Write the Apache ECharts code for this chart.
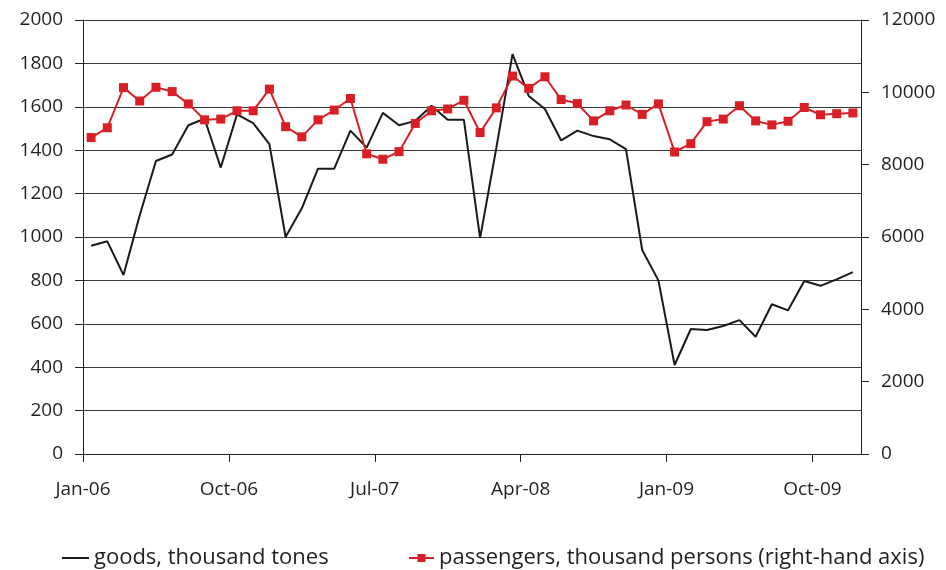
<!DOCTYPE html>
<html lang="en">
<head>
    <meta charset="UTF-8">
    <script src="https://cdn.jsdelivr.net/npm/echarts@6/dist/echarts.min.js"></script>
    <title>goods and passengers</title>
    <style>
        *{ margin: 0; padding: 0; }
        #chart{ width: 946px; height: 570px; background: #fff; }
    </style>
</head>
<body>
    <div id="chart"></div>
</body>
<script>
    // months Jan-06 .. Dec-09
    var months = [
        'Jan-06','Feb-06','Mar-06','Apr-06','May-06','Jun-06','Jul-06','Aug-06','Sep-06','Oct-06','Nov-06','Dec-06',
        'Jan-07','Feb-07','Mar-07','Apr-07','May-07','Jun-07','Jul-07','Aug-07','Sep-07','Oct-07','Nov-07','Dec-07',
        'Jan-08','Feb-08','Mar-08','Apr-08','May-08','Jun-08','Jul-08','Aug-08','Sep-08','Oct-08','Nov-08','Dec-08',
        'Jan-09','Feb-09','Mar-09','Apr-09','May-09','Jun-09','Jul-09','Aug-09','Sep-09','Oct-09','Nov-09','Dec-09'
    ];
    // labels shown under the axis, every 9 months
    var tickLabels = ['Jan-06', 'Oct-06', 'Jul-07', 'Apr-08', 'Jan-09', 'Oct-09'];

    var goods = [
        960, 980, 825, 1100, 1350, 1380, 1515, 1545, 1320, 1565, 1525, 1428,
        1000, 1132, 1315, 1315, 1490, 1412, 1572, 1515, 1535, 1605, 1540, 1540,
        995, 1410, 1843, 1650, 1590, 1445, 1490, 1465, 1450, 1405, 940, 800,
        410, 576, 571, 590, 617, 540, 690, 662, 797, 775, 805, 838
    ];
    var passengers = [
        8750, 9020, 10130, 9760, 10140, 10020, 9680, 9240, 9260, 9490, 9490, 10090,
        9050, 8770, 9240, 9510, 9830, 8300, 8150, 8360, 9140, 9490, 9540, 9780,
        8890, 9570, 10450, 10110, 10430, 9800, 9690, 9210, 9490, 9650, 9390, 9680,
        8350, 8580, 9190, 9260, 9630, 9210, 9100, 9200, 9580, 9380, 9410, 9430
    ];

    var chart = echarts.init(document.getElementById('chart'));
    var axisFont = { fontFamily: 'Open Sans', fontSize: 19, color: '#231f20' };
    var legendFont = { fontFamily: 'Open Sans', fontSize: 22, color: '#231f20' };
    var lineCol = '#231f20';
    var plain = function (v) { return String(v); };

    var option = {
        backgroundColor: '#fff',
        animation: false,
        grid: { left: 83, right: 85, top: 20, bottom: 116 },
        legend: [{
            data: [{ name: 'goods, thousand tones', icon: 'rect' }],
            left: 57, top: 542,
            itemWidth: 27, itemHeight: 2, itemGap: 0,
            textStyle: legendFont
        }, {
            data: ['passengers, thousand persons (right-hand axis)'],
            left: 403, top: 542,
            itemWidth: 25, itemHeight: 10,
            textStyle: legendFont
        }],
        xAxis: [{
            // data axis, one slot per month
            type: 'category',
            data: months,
            boundaryGap: true,
            show: false
        }, {
            // label axis: ticks on month boundaries
            type: 'value',
            position: 'bottom',
            min: 0, max: 48, interval: 9,
            axisLine: { show: true, lineStyle: { color: lineCol, width: 1 } },
            axisTick: { show: true, length: 8, lineStyle: { color: lineCol } },
            splitLine: { show: false },
            axisLabel: Object.assign({
                margin: 26,
                showMaxLabel: false,
                formatter: function (v) { return tickLabels[v / 9] || ''; }
            }, axisFont)
        }],
        yAxis: [{
            type: 'value',
            position: 'left',
            min: 0, max: 2000, interval: 200,
            axisLine: { show: true, lineStyle: { color: lineCol, width: 1 } },
            axisTick: { show: true, length: 8, lineStyle: { color: lineCol } },
            splitLine: { show: true, lineStyle: { color: '#3a3a3a', width: 1 } },
            axisLabel: Object.assign({ margin: 20, formatter: plain }, axisFont)
        }, {
            type: 'value',
            position: 'right',
            min: 0, max: 12000, interval: 2000,
            axisLine: { show: true, lineStyle: { color: lineCol, width: 1 } },
            axisTick: { show: true, length: 8, lineStyle: { color: lineCol } },
            splitLine: { show: false },
            axisLabel: Object.assign({ margin: 20, formatter: plain }, axisFont)
        }],
        series: [{
            name: 'goods, thousand tones',
            type: 'line',
            yAxisIndex: 0,
            data: goods,
            symbol: 'none',
            lineStyle: { color: '#1a1a1a', width: 2 },
            itemStyle: { color: '#1a1a1a' }
        }, {
            name: 'passengers, thousand persons (right-hand axis)',
            type: 'line',
            yAxisIndex: 1,
            data: passengers,
            symbol: 'rect',
            symbolSize: 9,
            lineStyle: { color: '#d91f26', width: 2 },
            itemStyle: { color: '#d91f26' }
        }]
    };
    chart.setOption(option);
</script>
</html>
